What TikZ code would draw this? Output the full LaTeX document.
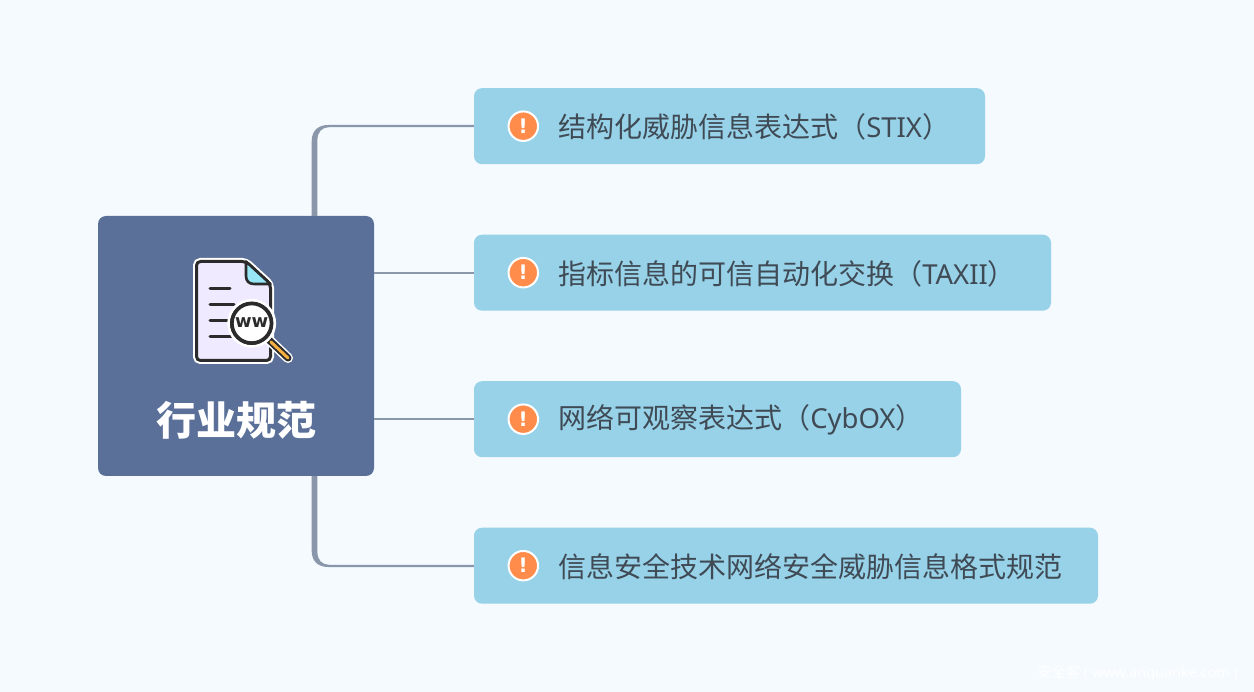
\documentclass[tikz,border=0pt]{standalone}
\usepackage{fontspec}
\setmainfont{Noto Sans}
\newfontfamily\cjk{Noto Sans CJK SC}
\newfontfamily\heavy{DejaVu Sans}
\usetikzlibrary{positioning}
\definecolor{pagebg}{HTML}{F5FAFF}
\definecolor{rootblue}{HTML}{5A7099}
\definecolor{leafblue}{HTML}{97D2E8}
\definecolor{branchgrey}{HTML}{8A96AA}
\definecolor{badgeorange}{HTML}{FF8C4A}
\definecolor{textdark}{HTML}{3F4A55}
\definecolor{iconink}{HTML}{2B2B2B}
\definecolor{iconpaper}{HTML}{EFEAFF}
\definecolor{iconfold}{HTML}{96E6F5}
\definecolor{iconhandle}{HTML}{F5B041}

\begin{document}
\begin{tikzpicture}[
  x=1pt, y=-1pt,
  root/.style={rectangle, rounded corners=8pt, fill=rootblue, minimum width=276pt, minimum height=260pt, inner sep=0pt},
  leaf/.style={rectangle, rounded corners=8pt, fill=leafblue, minimum height=76pt, inner sep=0pt},
  badge/.style={circle, draw=white, line width=2pt, fill=badgeorange, minimum size=29.5pt, inner sep=0pt, text=white, font=\heavy\bfseries\fontsize{20}{20}\selectfont},
  leaftext/.style={inner sep=0pt, yshift=-0.8pt, text=textdark, font=\fontsize{27.5}{28}\selectfont},
  branch/.style={draw=branchgrey, line width=2pt},
  trunk/.style={fill=branchgrey},
  inkline/.style={draw=iconink, line width=3pt, line cap=round}
]

\useasboundingbox (0,0) rectangle (1254,692);
\fill[pagebg] (0,0) rectangle (1254,692);

\node[root] (hub) at (236,346) {};
\node[leaf, minimum width=511pt] (stix) at (729.5,126.2) {};
\node[leaf, minimum width=577pt] (taxii) at (762.5,272.7) {};
\node[leaf, minimum width=487pt] (cybox) at (717.5,419.2) {};
\node[leaf, minimum width=624pt] (format) at (786,565.7) {};

% trunks get thinner towards the leaves
\coordinate (trunkleft) at (311.7,346);
\fill[trunk] (trunkleft |- hub.north) -- (311.7,141) .. controls (311.7,131) and (318,125) .. (328,125) -- (stix.west |- 0,125) -- (stix.west |- 0,127.2) -- (329,127.2) .. controls (322,127.2) and (317.4,132) .. (317.4,140) -- (317.4,216) -- cycle;
\fill[trunk] (trunkleft |- hub.south) -- (311.7,551) .. controls (311.7,561) and (318,567) .. (328,567) -- (format.west |- 0,567) -- (format.west |- 0,564.8) -- (329,564.8) .. controls (322,564.8) and (317.4,560) .. (317.4,552) -- (317.4,476) -- cycle;
\draw[branch] (hub.east |- taxii.west) -- (taxii.west);
\draw[branch] (hub.east |- cybox.west) -- (cybox.west);

\node[badge, right=34.5pt of stix.west, anchor=center, xshift=15pt] (badgestix) {!};
\node[badge, right=34.5pt of taxii.west, anchor=center, xshift=15pt] (badgetaxii) {!};
\node[badge, right=34.5pt of cybox.west, anchor=center, xshift=15pt] (badgecybox) {!};
\node[badge, right=34.5pt of format.west, anchor=center, xshift=15pt] (badgeformat) {!};

\node[leaftext, right=19pt of badgestix] (textstix) {{\cjk\fontsize{28}{28}\selectfont 结构化威胁信息表达式（}STIX{\cjk\fontsize{28}{28}\selectfont ）}};
\node[leaftext, right=19pt of badgetaxii] (texttaxii) {{\cjk\fontsize{28}{28}\selectfont 指标信息的可信自动化交换（}TAXII{\cjk\fontsize{28}{28}\selectfont ）}};
\node[leaftext, right=19pt of badgecybox] (textcybox) {{\cjk\fontsize{28}{28}\selectfont 网络可观察表达式（}CybOX{\cjk\fontsize{28}{28}\selectfont ）}};
\node[leaftext, right=19pt of badgeformat] (textformat) {\cjk\fontsize{28}{28}\selectfont 信息安全技术网络安全威胁信息格式规范};

% document icon
\draw[white, line width=7pt, rounded corners=4pt] (196.5,261.5) -- (246,261.5) -- (270.5,284) -- (270.5,360.5) -- (196.5,360.5) -- cycle;
\draw[iconink, fill=iconpaper, line width=3pt, rounded corners=4pt] (196.5,261.5) -- (246,261.5) -- (270.5,284) -- (270.5,360.5) -- (196.5,360.5) -- cycle;
\draw[iconink, fill=iconfold, line width=2.6pt, line join=round] (246,261.5) -- (270.5,284) -- (254,284) .. controls (249,284) and (246,281) .. (246,276) -- cycle;
\draw[inkline] (210,289) -- (230,289);
\draw[inkline] (210,305) -- (234,305);
\draw[inkline] (210,321) -- (234,321);
\draw[inkline] (210,337) -- (234,337);
\draw[white, line width=10pt, line cap=round] (267,338) -- (288,358);
\draw[iconink, line width=7pt, line cap=round] (267,338) -- (288,358);
\draw[iconhandle, line width=3pt, line cap=round] (271,342) -- (288,358);
\draw[iconink, fill=white, line width=4pt] (251.7,323.3) circle (20);
\draw[white, line width=2.5pt] (251.7,323.3) circle (23.2);
\node[inner sep=0pt, text=iconink, font=\heavy\bfseries\fontsize{18}{18}\selectfont] (lens) at (251.7,322.5) {ww};

\node[inner sep=0pt, text=white, font=\cjk\bfseries\fontsize{40}{40}\selectfont] (title) at (236,420.5) {行业规范};

\node[inner sep=0pt, anchor=east, text=white, font=\fontsize{14.4}{14.4}\selectfont] (mark) at (1238,673) {{\cjk 安全客} ( www.anquanke.com )};

\end{tikzpicture}
\end{document}
